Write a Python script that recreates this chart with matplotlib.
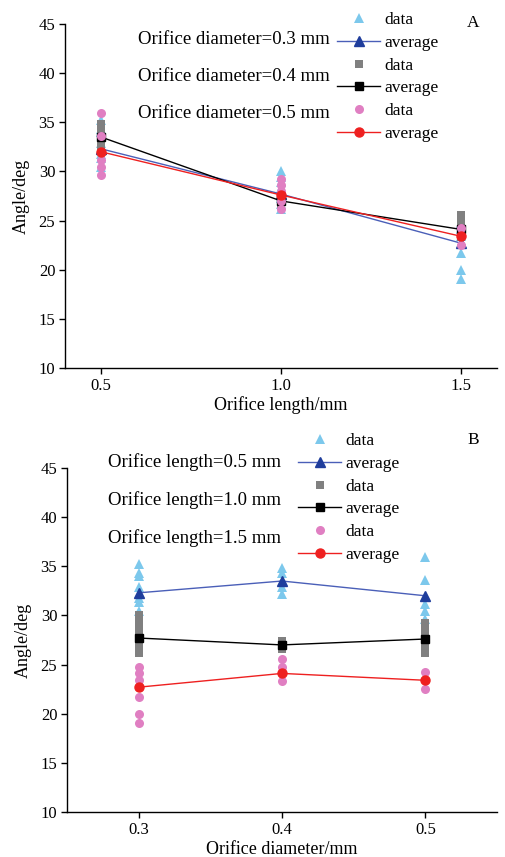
import matplotlib
matplotlib.use("Agg")
import matplotlib.pyplot as plt
from matplotlib.lines import Line2D

plt.rcParams['font.family'] = ['Liberation Serif', 'DejaVu Serif']

# Orifice geometry
lengths = [0.5, 1.0, 1.5]      # orifice length / mm
diameters = [0.3, 0.4, 0.5]    # orifice diameter / mm

# Measured angles (deg): one list per orifice length, for each diameter
d03_data = [[35.2, 34.3, 34.0, 32.9, 31.8, 31.4, 30.4],
            [30.0, 29.4, 28.9, 28.3, 27.3, 26.7, 26.2],
            [24.8, 24.1, 23.4, 21.7, 20.0, 19.1]]
d04_data = [[34.8, 34.3, 32.9, 32.2],
            [27.4, 26.6],
            [25.6, 24.8, 23.3]]
d05_data = [[35.9, 33.6, 31.2, 30.4, 29.6],
            [29.2, 28.6, 28.0, 27.0, 26.2],
            [24.2, 22.5]]

# Averages (deg) over the three orifice lengths, for each diameter
avg_d03 = [32.3, 27.7, 22.7]
avg_d04 = [33.5, 27.0, 24.1]
avg_d05 = [32.0, 27.6, 23.4]

yticks = [10, 15, 20, 25, 30, 35, 40, 45]

C_TRI = '#7cc8ec'
C_BLUE_LINE = '#4a5fb8'
C_BLUE_MK = '#1f3d9c'
C_GRAY = '#808080'
C_PINK = '#e07fc2'
C_RED = '#ee2020'

W, H = 505, 857
fig = plt.figure(figsize=(W / 100, H / 100), dpi=100)
fig.patch.set_facecolor('white')


def px_axes(left, right, top, bottom):
    return fig.add_axes([left / W, 1 - bottom / H, (right - left) / W, (bottom - top) / H])


def style(ax, xlabel, xticks, xlim):
    ax.set_xlim(*xlim)
    ax.set_ylim(10, 45)
    ax.set_xticks(xticks)
    ax.set_xticklabels([f'{t:.1f}' for t in xticks])
    ax.set_yticks(yticks)
    for s in ('top', 'right'):
        ax.spines[s].set_visible(False)
    for s in ('left', 'bottom'):
        ax.spines[s].set_linewidth(1.0)
    ax.tick_params(direction='out', length=4, width=1.0, labelsize=12, pad=3)
    ax.set_xlabel(xlabel, fontsize=13, labelpad=2)
    ax.set_ylabel('Angle/deg', fontsize=13, labelpad=6)


def scatter_groups(ax, xs, groups, marker, color, ms):
    for x, vals in zip(xs, groups):
        ax.plot([x] * len(vals), vals, linestyle='none', marker=marker,
                color=color, markersize=ms, markeredgewidth=0)


def legend(ax, x, y):
    handles = [
        Line2D([], [], ls='none', marker='^', color=C_TRI, ms=7, mew=0),
        Line2D([], [], color=C_BLUE_LINE, lw=1.0, marker='^', mfc=C_BLUE_MK, mec=C_BLUE_MK, ms=7),
        Line2D([], [], ls='none', marker='s', color=C_GRAY, ms=5.5, mew=0),
        Line2D([], [], color='black', lw=1.0, marker='s', ms=5.5),
        Line2D([], [], ls='none', marker='o', color=C_PINK, ms=6.5, mew=0),
        Line2D([], [], color=C_RED, lw=1.0, marker='o', ms=6.5),
    ]
    labels = ['data', 'average'] * 3
    ax.legend(handles, labels, loc='upper left', bbox_to_anchor=(x / W, 1 - y / H),
              bbox_transform=fig.transFigure, frameon=False, fontsize=12.5,
              handlelength=2.5, handletextpad=0.25, labelspacing=0.38, borderpad=0,
              borderaxespad=0)


# ---- Panel A: angle vs orifice length ----
axA = px_axes(65, 497, 24, 368)
style(axA, 'Orifice length/mm', lengths, (0.4, 1.6))
scatter_groups(axA, lengths, d03_data, '^', C_TRI, 7)
axA.plot(lengths, avg_d03, color=C_BLUE_LINE, lw=1.0, marker='^', mfc=C_BLUE_MK, mec=C_BLUE_MK, ms=7)
scatter_groups(axA, lengths, d04_data, 's', C_GRAY, 5.5)
axA.plot(lengths, avg_d04, color='black', lw=1.0, marker='s', ms=5.5)
scatter_groups(axA, lengths, d05_data, 'o', C_PINK, 6.5)
axA.plot(lengths, avg_d05, color=C_RED, lw=1.0, marker='o', ms=6.5)
legend(axA, 337, 12)
for i, d in enumerate(diameters):
    fig.text(138 / W, 1 - (40 + 36.5 * i) / H, f'Orifice diameter={d} mm',
             fontsize=13.5, va='center', ha='left')
fig.text(473 / W, 1 - 23 / H, 'A', fontsize=12.5, va='center', ha='center')

# ---- Panel B: angle vs orifice diameter ----
axB = px_axes(67, 497, 468, 812)
style(axB, 'Orifice diameter/mm', diameters, (0.25, 0.55))
by_length = list(zip(d03_data, d04_data, d05_data))
avg_by_length = list(zip(avg_d03, avg_d04, avg_d05))
scatter_groups(axB, diameters, by_length[0], '^', C_TRI, 7)
axB.plot(diameters, avg_by_length[0], color=C_BLUE_LINE, lw=1.0, marker='^', mfc=C_BLUE_MK, mec=C_BLUE_MK, ms=7)
scatter_groups(axB, diameters, by_length[1], 's', C_GRAY, 5.5)
axB.plot(diameters, avg_by_length[1], color='black', lw=1.0, marker='s', ms=5.5)
scatter_groups(axB, diameters, by_length[2], 'o', C_PINK, 6.5)
axB.plot(diameters, avg_by_length[2], color=C_RED, lw=1.0, marker='o', ms=6.5)
legend(axB, 298, 433)
for i, L in enumerate(lengths):
    fig.text(108 / W, 1 - (462 + 38 * i) / H, f'Orifice length={L} mm',
             fontsize=13.5, va='center', ha='left')
fig.text(473 / W, 1 - 440 / H, 'B', fontsize=12.5, va='center', ha='center')

fig.savefig('out.png', dpi=100, facecolor='white')
